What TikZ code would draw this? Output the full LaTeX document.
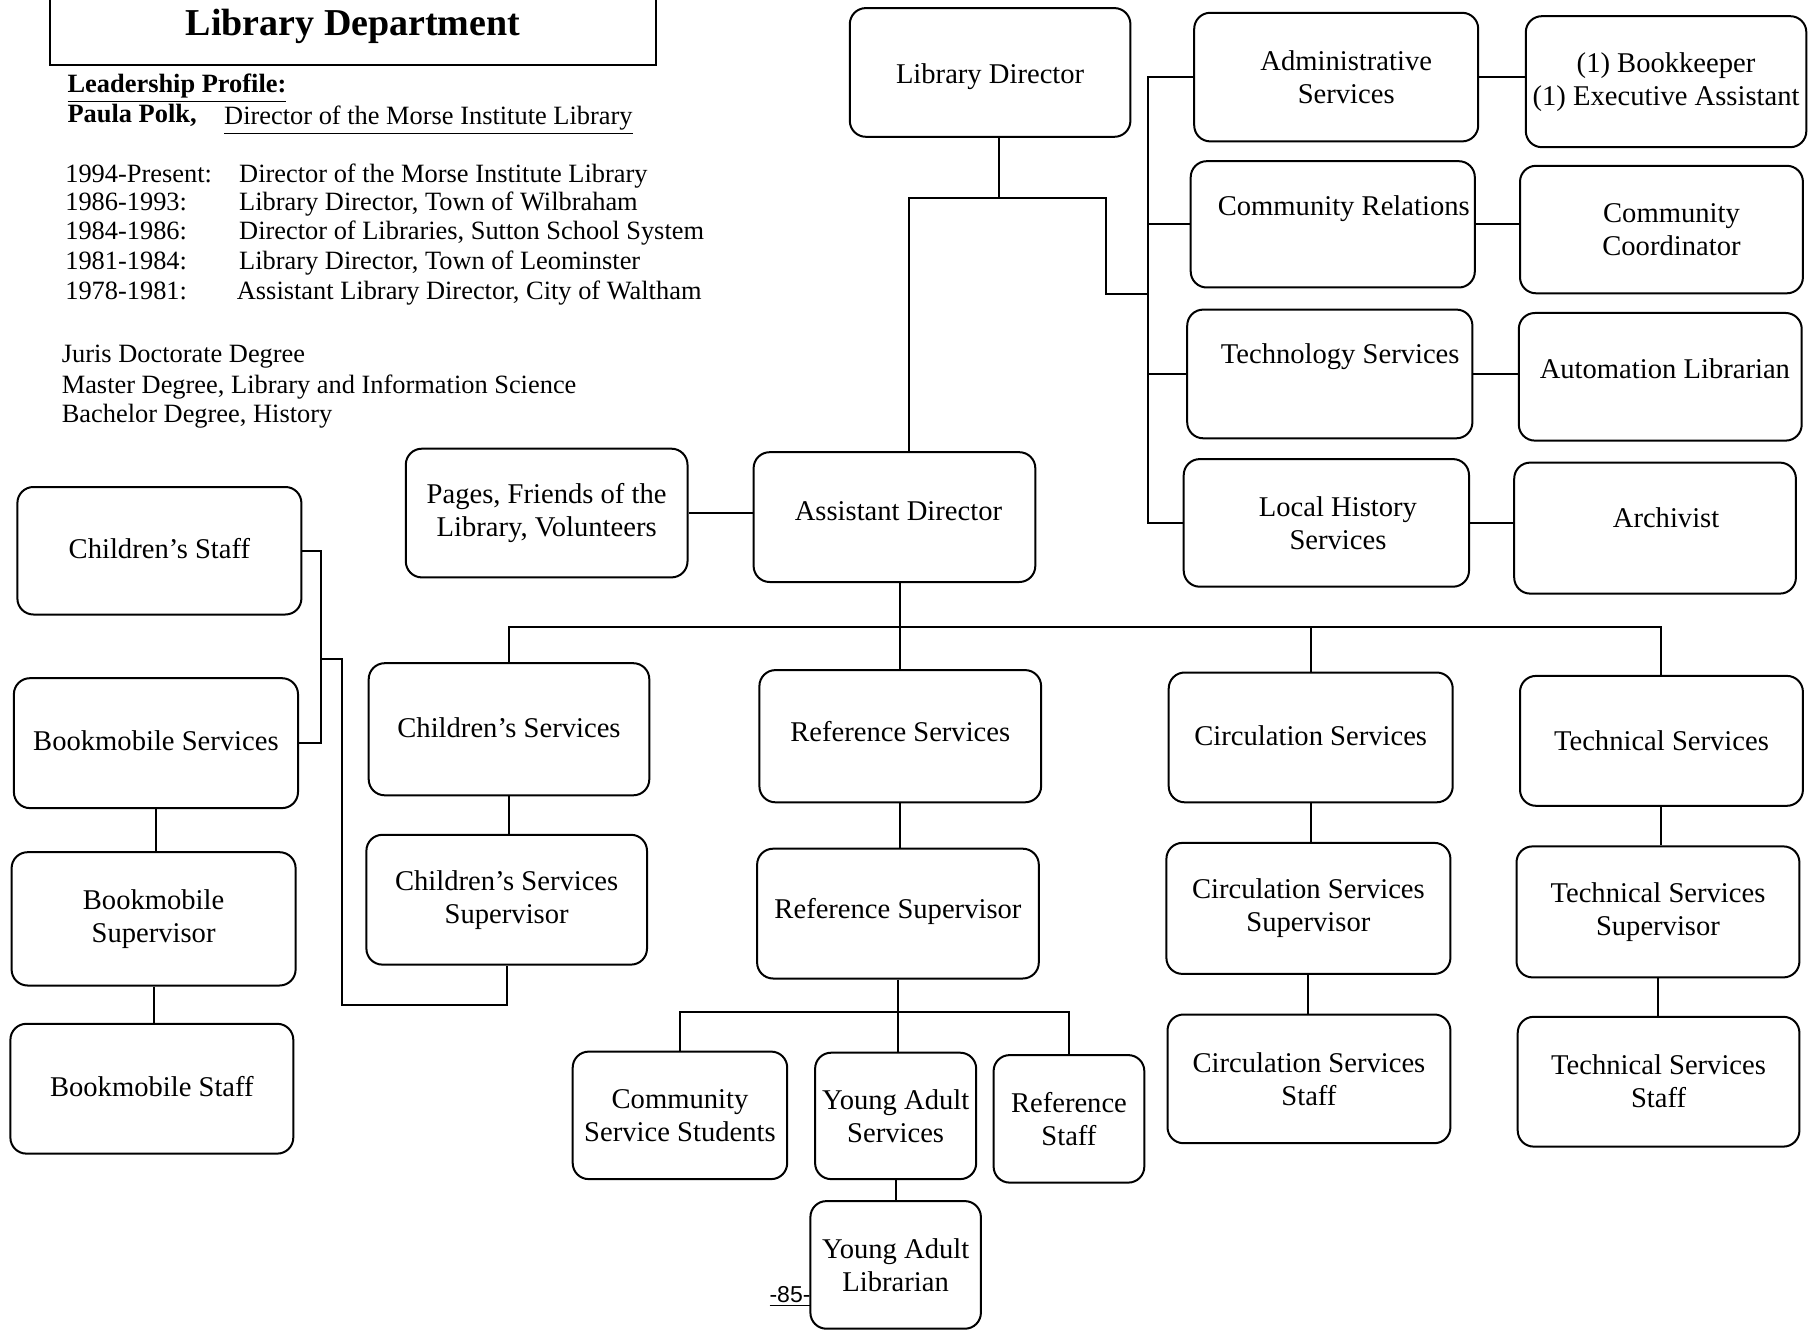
\documentclass[tikz,border=0pt]{standalone}
\usepackage{fontspec}
\setmainfont{Liberation Serif}
\newfontfamily\pgnumfont{Liberation Sans}
\usetikzlibrary{fit}
\tikzset{
  conn/.style={line width=1pt},
  box/.style={draw, line width=1pt, rounded corners=8pt, inner sep=0pt},
  boxtext/.style={inner sep=0pt, align=center, font=\fontsize{14.3}{16.5}\selectfont},
  prof/.style={anchor=base west, inner sep=0pt, font=\fontsize{13.2}{14.6}\selectfont},
}
% name, x1, y1, x2, y2, text options, text
\newcommand\bx[7]{%
  \node[box, fit={(#2,#3)(#4,#5)}] (#1) {};
  \node[boxtext, #6] (#1t) at (#1.center) {#7};}
\begin{document}
\begin{tikzpicture}[x=0.5pt,y=-0.5pt]
\useasboundingbox (0,0) rectangle (1818,1331);

% title
\node[draw, line width=1pt, inner sep=0pt, fit={(49.9,-19)(656.2,64.9)}] (titlebox) {};
\node[anchor=base, inner sep=0pt, font=\fontsize{19}{22}\selectfont\bfseries] (title) at (353,36) {Library Department};

% profile
\node[prof, font=\fontsize{13.2}{14.6}\selectfont\bfseries] (lp) at (67.2,92.5) {\underline{Leadership Profile:}};
\node[prof, font=\fontsize{13.2}{14.6}\selectfont\bfseries] (pp) at (67.2,122.6) {Paula Polk,};
\node[prof] (pd) at (223.8,125) {\underline{Director of the Morse Institute Library}};
\node[prof] (y1) at (64.9,182.9) {1994-Present:};
\node[prof] (y2) at (64.9,210.7) {1986-1993:};
\node[prof] (y3) at (64.9,239.7) {1984-1986:};
\node[prof] (y4) at (64.9,269.9) {1981-1984:};
\node[prof] (y5) at (64.9,300.0) {1978-1981:};
\node[prof] (d1) at (238.8,182.9) {Director of the Morse Institute Library};
\node[prof] (d2) at (238.8,210.7) {Library Director, Town of Wilbraham};
\node[prof] (d3) at (238.8,239.7) {Director of Libraries, Sutton School System};
\node[prof] (d4) at (238.8,269.9) {Library Director, Town of Leominster};
\node[prof] (d5) at (236.5,300.0) {Assistant Library Director, City of Waltham};
\node[prof] (g1) at (61.4,362.6) {Juris Doctorate Degree};
\node[prof] (g2) at (61.4,393.9) {Master Degree, Library and Information Science};
\node[prof] (g3) at (61.4,422.9) {Bachelor Degree, History};

% boxes
\bx{ld}{849.8}{8.1}{1130.4}{136.8}{yshift=-2pt}{Library Director}
\bx{admin}{1194.2}{12.8}{1478.2}{141.4}{xshift=5pt}{Administrative\\Services}
\bx{bk}{1525.8}{16.2}{1806.3}{147.2}{}{(1) Bookkeeper\\(1) Executive Assistant}
\bx{cr}{1190.7}{161.2}{1474.8}{287.5}{xshift=5.5pt,yshift=7.8pt}{Community Relations}
\bx{cc}{1520}{165.8}{1802.9}{293.3}{xshift=5pt}{Community\\Coordinator}
\bx{tech}{1187.2}{309.6}{1472.4}{438.3}{xshift=5.2pt,yshift=8.4pt}{Technology Services}
\bx{auto}{1518.8}{313}{1801.7}{440.6}{xshift=2.3pt,yshift=4pt}{Automation Librarian}
\bx{lh}{1183.7}{459.1}{1469}{586.7}{xshift=5.8pt}{Local History\\Services}
\bx{arch}{1514.2}{462.6}{1795.9}{593.6}{xshift=5.5pt,yshift=5pt}{Archivist}
\bx{ad}{753.6}{452.2}{1035.3}{582}{xshift=2pt,yshift=2.9pt}{Assistant Director}
\bx{pages}{405.8}{448.7}{687.5}{577.4}{}{Pages, Friends of the\\Library, Volunteers}
\bx{chstaff}{17.4}{487}{301.4}{614.5}{yshift=1pt}{Children’s Staff}
\bx{bmserv}{13.9}{678.2}{298}{808.1}{yshift=1pt}{Bookmobile Services}
\bx{bmsup}{11.6}{852.2}{295.6}{985.5}{}{Bookmobile\\Supervisor}
\bx{bmstaff}{10.4}{1023.8}{293.3}{1153.6}{yshift=1pt}{Bookmobile Staff}
\bx{chserv}{368.7}{663.2}{649.3}{795.3}{yshift=1pt}{Children’s Services}
\bx{chsup}{366.4}{834.8}{647}{964.6}{}{Children’s Services\\Supervisor}
\bx{refserv}{759.4}{670.1}{1041.1}{802.3}{yshift=2.3pt}{Reference Services}
\bx{refsup}{757.1}{848.7}{1038.8}{978.5}{yshift=1pt}{Reference Supervisor}
\bx{circserv}{1168.7}{672.5}{1452.7}{802.3}{yshift=1pt}{Circulation Services}
\bx{circsup}{1166.4}{842.9}{1450.4}{973.9}{}{Circulation Services\\Supervisor}
\bx{circstaff}{1167.5}{1014.5}{1450.4}{1143.2}{}{Circulation Services\\Staff}
\bx{techserv}{1520}{675.9}{1802.9}{805.8}{}{Technical Services}
\bx{techsup}{1516.5}{846.4}{1799.4}{977.4}{}{Technical Services\\Supervisor}
\bx{techstaff}{1517.7}{1016.8}{1799.4}{1146.6}{}{Technical Services\\Staff}
\bx{csstud}{572.7}{1051.6}{787.2}{1179.1}{}{Community\\Service Students}
\bx{yaserv}{815.1}{1052.7}{976.2}{1179.1}{}{Young Adult\\Services}
\bx{refstaff}{993.6}{1055.1}{1144.3}{1182.6}{}{Reference\\Staff}
\bx{yalib}{810.4}{1201.1}{980.9}{1328.7}{}{Young Adult\\Librarian}

% page number
\node[anchor=base, inner sep=0pt, font=\pgnumfont\fontsize{11.5}{13}\selectfont] (pgnum) at (790,1302) {\underline{-85-}};

% connectors: director level
\coordinate (j1) at (999,198);
\coordinate (j1l) at (909,198);
\coordinate (j1r) at (1106,198);
\coordinate (j1rb) at (1106,294.5);
\coordinate (rb) at (1148,0);
\draw[conn] (ld.south -| j1) -- (j1);
\draw[conn] (ad.north -| j1l) -- (j1l) -- (j1r) -- (j1rb) -- (j1rb -| rb);
\draw[conn] (admin.west) -- (admin.west -| rb) -- (lh.west -| rb) -- (lh.west);
\draw[conn] (cr.west) -- (cr.west -| rb);
\draw[conn] (tech.west) -- (tech.west -| rb);
\draw[conn] (admin.east) -- (admin.east -| bk.west);
\draw[conn] (cr.east) -- (cr.east -| cc.west);
\draw[conn] (tech.east) -- (tech.east -| auto.west);
\draw[conn] (lh.east) -- (lh.east -| arch.west);
\draw[conn] (pages.east) -- (pages.east -| ad.west);

% assistant director level
\coordinate (b2) at (0,627);
\draw[conn] (chserv.north) -- (chserv.north |- b2) -- (techserv.north |- b2) -- (techserv.north);
\draw[conn] (ad.south -| refserv.north) -- (refserv.north);
\draw[conn] (circserv.north |- b2) -- (circserv.north);

% vertical chains
\draw[conn] (chserv.south) -- (chserv.south |- chsup.north);
\draw[conn] (refserv.south) -- (refserv.south |- refsup.north);
\draw[conn] (circserv.south) -- (circserv.south |- circsup.north);
\draw[conn] (circsup.south) -- (circsup.south |- circstaff.north);
\draw[conn] (techserv.south) -- (techserv.south |- techsup.north);
\draw[conn] (techsup.south) -- (techsup.south |- techstaff.north);
\draw[conn] (bmserv.south) -- (bmserv.south |- bmsup.north);
\draw[conn] (bmsup.south) -- (bmsup.south |- bmstaff.north);

% reference supervisor group
\coordinate (b3) at (0,1012);
\draw[conn] (refsup.south) -- (refsup.south |- yaserv.north);
\draw[conn] (csstud.north) -- (csstud.north |- b3) -- (refstaff.north |- b3) -- (refstaff.north);
\draw[conn] (yaserv.south) -- (yaserv.south |- yalib.north);

% left bracket
\coordinate (lb1) at (321,0);
\coordinate (lb2) at (321,658.5);
\coordinate (lb3) at (342,1005);
\draw[conn] (chstaff.east) -- (chstaff.east -| lb1) -- (bmserv.east -| lb1) -- (bmserv.east);
\draw[conn] (lb2) -| (lb3) -- (lb3 -| chsup.south) -- (chsup.south);
\end{tikzpicture}
\end{document}
